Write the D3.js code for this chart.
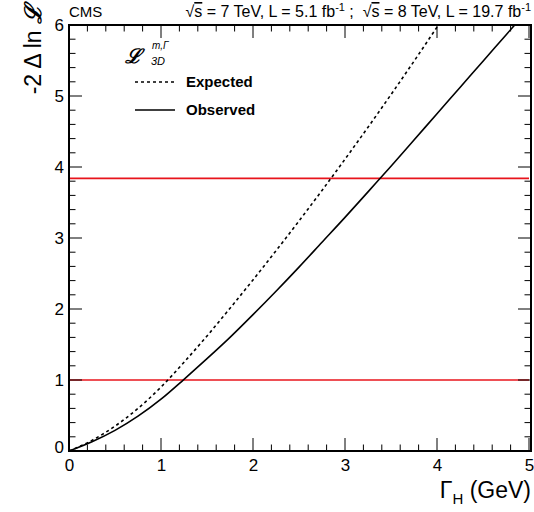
<!DOCTYPE html>
<html>
<head>
<meta charset="utf-8">
<script src="https://cdn.jsdelivr.net/npm/d3@7"></script>
<style>
  body { margin: 0; background: #fff; }
  svg { display: block; }
  text { font-family: "Liberation Sans", Arial, sans-serif; fill: #000; white-space: pre; }
</style>
</head>
<body>
<svg id="chart" width="534" height="512"></svg>
<script>
// ---- data ----
const widthGrid = [0, 0.25, 0.5, 0.75, 1.0, 1.25, 1.5, 1.75, 2.0, 2.25, 2.5, 2.75, 3.0, 3.25, 3.5, 3.75, 4.0, 4.25, 4.5, 4.75, 5.0];
const observed  = [0, 0.13, 0.29, 0.49, 0.73, 1.01, 1.30, 1.60, 1.92, 2.25, 2.59, 2.94, 3.29, 3.65, 4.01, 4.38, 4.75, 5.12, 5.49, 5.86, 6.23];
const expected  = [0, 0.15, 0.35, 0.60, 0.90, 1.25, 1.62, 2.01, 2.41, 2.82, 3.24, 3.67, 4.11, 4.56, 5.02, 5.49, 5.97, 6.45, 6.95, 7.45, 7.95];
const thresholds = [1, 3.84];
const xTicks = [0, 1, 2, 3, 4, 5];
const yTicks = [0, 1, 2, 3, 4, 5, 6];
const legendLabels = ["Expected", "Observed"];

// ---- layout ----
const svg = d3.select("#chart");
const L = 69, R = 529, T = 25, B = 451;
const x = d3.scaleLinear().domain([0, 5]).range([L, R]);
const y = d3.scaleLinear().domain([0, 6]).range([B, T]);

svg.append("defs").append("clipPath").attr("id", "clip")
  .append("rect").attr("x", L).attr("y", T).attr("width", R - L).attr("height", B - T);

// threshold lines
svg.append("g").selectAll("line").data(thresholds).join("line")
  .attr("x1", x(0)).attr("x2", x(5))
  .attr("y1", d => y(d)).attr("y2", d => y(d))
  .attr("stroke", "#e8141c").attr("stroke-width", 1.6);

// curves
const line = d3.line().x((d, i) => x(widthGrid[i])).y(d => y(d)).curve(d3.curveMonotoneX);
const gCurves = svg.append("g").attr("clip-path", "url(#clip)");
gCurves.append("path").datum(expected).attr("d", line)
  .attr("fill", "none").attr("stroke", "#000").attr("stroke-width", 1.6)
  .attr("stroke-dasharray", "3,3");
gCurves.append("path").datum(observed).attr("d", line)
  .attr("fill", "none").attr("stroke", "#000").attr("stroke-width", 1.6);

// ticks (inside, mirrored)
const minorX = d3.range(0, 5.0001, 0.2).map(v => +v.toFixed(2));
const minorY = d3.range(0, 6.0001, 0.2).map(v => +v.toFixed(2));
const isMajor = v => Math.abs(v - Math.round(v)) < 1e-6;
const gTicks = svg.append("g").attr("stroke", "#000").attr("stroke-width", 1);
minorX.forEach(v => {
  const len = isMajor(v) ? 13 : 6.5;
  gTicks.append("line").attr("x1", x(v)).attr("x2", x(v)).attr("y1", B).attr("y2", B - len);
  gTicks.append("line").attr("x1", x(v)).attr("x2", x(v)).attr("y1", T).attr("y2", T + len);
});
minorY.forEach(v => {
  const len = isMajor(v) ? 13 : 6.5;
  gTicks.append("line").attr("y1", y(v)).attr("y2", y(v)).attr("x1", L).attr("x2", L + len);
  gTicks.append("line").attr("y1", y(v)).attr("y2", y(v)).attr("x1", R + 2).attr("x2", R + 2 - len);
});

// frame
svg.append("rect").attr("x", L).attr("y", T).attr("width", R + 2 - L).attr("height", B - T)
  .attr("fill", "none").attr("stroke", "#000").attr("stroke-width", 2);

// tick labels via d3 axes
const xAxisG = svg.append("g").attr("transform", `translate(0,${B})`)
  .call(d3.axisBottom(x).tickValues(xTicks).tickSize(0).tickPadding(8).tickFormat(d3.format("d")));
xAxisG.select(".domain").remove();
xAxisG.selectAll("text").attr("font-size", 17).attr("font-family", "Liberation Sans, Arial, sans-serif").attr("fill", "#000");

const yAxisG = svg.append("g").attr("transform", `translate(${L},0)`)
  .call(d3.axisLeft(y).tickValues(yTicks).tickSize(0).tickPadding(5).tickFormat(d3.format("d")));
yAxisG.select(".domain").remove();
yAxisG.selectAll("text").attr("font-size", 17).attr("font-family", "Liberation Sans, Arial, sans-serif").attr("fill", "#000");
yAxisG.selectAll(".tick").filter(d => d === 0).select("text").attr("dy", "0.1em");

// header
svg.append("text").attr("x", L).attr("y", 17).attr("font-size", 15).text("CMS");
const hdr = svg.append("text").attr("x", R + 2).attr("y", 17).attr("font-size", 16).attr("text-anchor", "end");
hdr.append("tspan").text("\u221A");
hdr.append("tspan").style("text-decoration", "overline").text("s");
hdr.append("tspan").text(" = 7 TeV, L = 5.1 fb");
hdr.append("tspan").attr("font-size", 11).attr("dy", -6).text("-1");
hdr.append("tspan").attr("dy", 6).text("\u00A0;\u00A0\u00A0\u221A");
hdr.append("tspan").style("text-decoration", "overline").text("s");
hdr.append("tspan").text(" = 8 TeV, L = 19.7 fb");
hdr.append("tspan").attr("font-size", 11).attr("dy", -6).text("-1");

// y axis title
const yt = svg.append("text").attr("transform", "translate(41,5) rotate(-90)")
  .attr("text-anchor", "end").attr("font-size", 23);
yt.append("tspan").text("-2 \u0394 ln ");
yt.append("tspan").attr("font-family", "DejaVu Serif").attr("font-style", "italic").attr("font-weight", "bold").text("\u2112");

// x axis title
const xt = svg.append("text").attr("x", R + 2).attr("y", 498).attr("text-anchor", "end").attr("font-size", 23);
xt.append("tspan").text("\u0393");
xt.append("tspan").attr("font-size", 15).attr("dy", 6).text("H");
xt.append("tspan").attr("dy", -6).text(" (GeV)");

// legend
const lg = svg.append("g");
lg.append("text").attr("x", 125).attr("y", 63).attr("font-size", 20)
  .attr("font-family", "DejaVu Serif").attr("font-style", "italic").attr("font-weight", "bold").text("\u2112");
lg.append("text").attr("x", 152).attr("y", 49).attr("font-size", 10).attr("font-style", "italic").text("m,\u0393");
lg.append("text").attr("x", 151).attr("y", 65).attr("font-size", 11).attr("font-style", "italic").text("3D");
const legY = [82, 110];
legendLabels.forEach((lab, i) => {
  lg.append("line").attr("x1", 135).attr("x2", 175).attr("y1", legY[i]).attr("y2", legY[i])
    .attr("stroke", "#000").attr("stroke-width", 1.6)
    .attr("stroke-dasharray", i === 0 ? "3,3" : null);
  lg.append("text").attr("x", 186).attr("y", legY[i]).attr("dy", "0.36em")
    .attr("font-size", 15).attr("font-weight", "bold").text(lab);
});
</script>
</body>
</html>
